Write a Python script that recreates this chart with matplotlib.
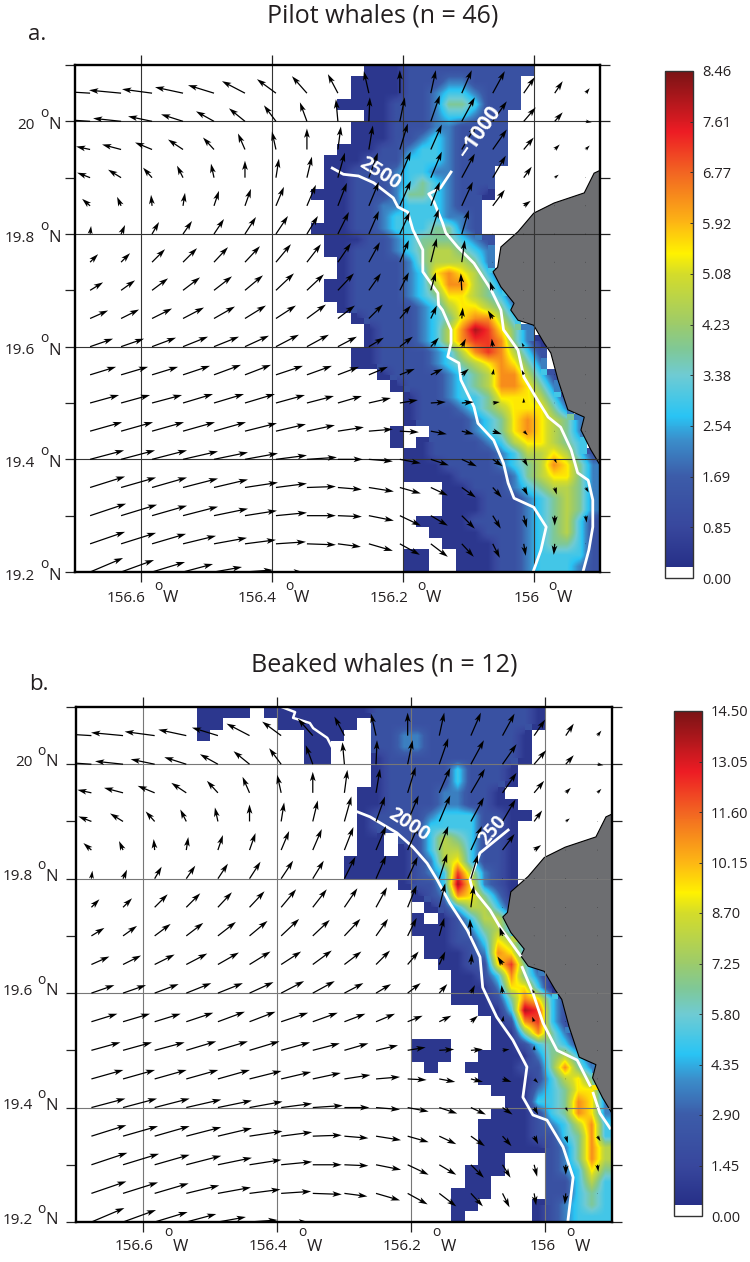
import numpy as np
from matplotlib import pyplot as plt
from matplotlib.colors import LinearSegmentedColormap, Normalize
from matplotlib.patches import Polygon

plt.rcParams['font.family'] = ['Open Sans', 'DejaVu Sans']

W, H = 750, 1262
INK = '#231f20'

# density grid: 0.02 deg cells, one string per row from 20.1N going south,
# digit = colorbar decile, '.' = no data, start = first column of the row
pilot_start = [22, 21, 21, 20, 22, 21, 21, 20, 19, 19, 19, 18, 19, 19, 18, 19, 19, 20, 20, 19, 19, 20, 21,
               22, 22, 21, 21, 23, 24, 25, 25, 25, 24, 24, 25, 25, 25, 28, 28, 28, 26, 27, 28, 25, 25]
pilot_rows = [
    "0001111111111", "0000111221111", "0000112332111", "00001112443111", "00111233211",
    "000111221111", "000112321111", "0001123321111", "00011133321111", "0011123322111",
    "0011123432111", "00011124432110", "001122333211", "001123333221", "0001123334421",
    "0001123444321", "0011123455432", "011112455542", "0111123676531", "00111123577542",
    "001111234665431", "01111123566542", "0111123467753", "0111235798642", "01112357887420",
    "001111235787531", "001111234567642", "01111234577531", "0111234577642", "0112334666531",
    "0111234566642", "01111234676542", "0..111234676542", "0.0111123566543", "001111123556531",
    "000111123457642", "000011112456642", "001112345542", "000111234542", "000111234542",
    "00001111234531", "0000111234531", "000011234431", "00..00011233331", "00..00011233321",
]
beaked_start = [9, 9, 9, 17, 17, 22, 22, 21, 21, 21, 21, 21, 21, 20, 20, 24, 25, 26, 25, 25, 26, 26, 27,
                28, 28, 28, 30, 31, 31, 25, 25, 26, 30, 31, 32, 31, 30, 30, 30, 30, 29, 29, 28, 28, 28]
beaked_rows = [
    "0000.000000001111111111110", "00....000000.1111111111110", "0.......000..112211111110",
    "00...112211111110", "00...011111111110", "01111131110", "01111131110", "00111122110",
    "001111221100", "0111123331100", "011113333110", "00.113543110", "00.013553110",
    "0000012563110", "0000012385210", "011396210", "01276420", "0135531", "0.013553",
    "00012453", "00113653", "00012763", "00116841", "00137420", "00026630", "000147631",
    "0039831", "017831", "0047420", "000...0013431", "000..000024531", "0..0000114742",
    "000013564", "000234662", "00334762", "000134762", "0000123573", "0000113473",
    "0000012475", "00...12475", "000...12364", "00....11353", "000....11343",
    "00....012343", "0.....012333",
]

# current vectors, one row per 0.05 deg from 20.05N to 19.2N
current_u = [
    [-33, -32, -30, -28, -26, -23, -19, -15, -10, -5, 0, 5, 10, 12, 11, 8, 4],
    [-30, -28, -24, -22, -18, -16, -12, -7, -2, 1, 5, 9, 13, 14, 12, 8, 6],
    [-14, -19, -17, -15, -11, -7, -4, 0, 3, 4, 8, 11, 14, 14, 10, 5, 4],
    [-13, -13, -9, -6, -3, 0, 3, 5, 7, 9, 11, 11, 13, 13, 8, 4, 0],
    [-8, -4, -1, 2, 5, 6, 8, 9, 9, 10, 11, 9, 11, 12, 7, 0, 0],
    [1, 4, 7, 9, 10, 11, 12, 11, 11, 10, 10, 8, 7, 0, 0, 0, 0],
    [8, 9, 13, 14, 14, 15, 15, 14, 13, 11, 9, 6, 3, 0, 0, 0, 0],
    [13, 14, 16, 17, 18, 18, 18, 17, 16, 12, 9, 5, -1, -3, 0, 0, 0],
    [18, 18, 20, 21, 21, 21, 20, 19, 17, 14, 11, 6, 1, -5, 0, 0, 0],
    [23, 23, 24, 25, 25, 24, 23, 22, 19, 15, 13, 8, 4, -1, -2, 0, 0],
    [26, 27, 26, 27, 27, 26, 27, 25, 21, 19, 15, 12, 7, 1, -2, 0, 0],
    [29, 29, 30, 30, 30, 30, 29, 27, 24, 22, 18, 15, 12, 7, 0, 0, 0],
    [32, 32, 32, 32, 32, 32, 30, 28, 26, 24, 19, 16, 12, 9, 4, 0, 0],
    [34, 34, 35, 35, 34, 33, 31, 30, 25, 24, 21, 18, 15, 10, 4, 2, 0],
    [35, 35, 35, 35, 34, 33, 31, 29, 24, 25, 21, 17, 14, 9, 4, 2, 3],
    [36, 36, 35, 35, 34, 32, 31, 29, 24, 25, 21, 17, 13, 8, 3, 0, 1],
    [35, 35, 34, 33, 33, 31, 30, 29, 23, 24, 20, 17, 12, 7, 2, -1, 0],
    [33, 33, 33, 30, 28, 28, 27, 25, 22, 23, 18, 14, 10, 6, 2, -1, 0],
]
current_v = [
    [2, 3, 4, 6, 8, 12, 14, 17, 19, 22, 23, 23, 23, 22, 16, 12, 5],
    [2, 3, 5, 7, 10, 13, 16, 19, 22, 24, 24, 26, 24, 20, 14, 9, -1],
    [3, 5, 7, 10, 12, 16, 18, 21, 23, 24, 26, 25, 24, 20, 12, 5, 4],
    [5, 8, 10, 12, 14, 17, 19, 21, 25, 25, 26, 26, 24, 22, 11, 3, 0],
    [7, 9, 11, 13, 15, 17, 19, 21, 23, 24, 25, 24, 24, 16, 5, 0, 0],
    [8, 9, 12, 13, 15, 17, 18, 18, 22, 23, 22, 25, 24, 0, 0, 0, 0],
    [8, 9, 13, 14, 15, 16, 18, 18, 19, 20, 22, 24, 22, 0, 0, 0, 0],
    [8, 10, 12, 13, 14, 15, 17, 16, 17, 17, 18, 18, 17, 9, 0, 0, 0],
    [8, 9, 10, 11, 12, 13, 13, 14, 13, 14, 13, 13, 11, 8, 0, 0, 0],
    [8, 8, 9, 10, 10, 11, 12, 12, 10, 9, 10, 9, 8, 8, 4, 0, 0],
    [8, 8, 8, 9, 10, 10, 9, 9, 8, 8, 6, 6, 6, 6, 5, 0, 0],
    [8, 8, 8, 9, 9, 9, 8, 7, 7, 5, 3, 1, 1, 1, 5, 0, 0],
    [9, 9, 9, 9, 9, 8, 7, 6, 4, 2, -1, -3, -3, -3, -4, 0, 0],
    [9, 9, 9, 8, 7, 6, 4, 2, 0, -2, -4, -6, -7, -7, -7, -4, 0],
    [11, 10, 10, 9, 8, 5, 4, 1, -2, -4, -6, -8, -10, -10, -8, -7, -5],
    [12, 11, 10, 9, 7, 5, 3, 0, -1, -5, -10, -10, -13, -13, -12, -10, -7],
    [12, 11, 10, 8, 6, 4, 2, -1, -3, -7, -11, -13, -13, -14, -12, -11, 0],
    [14, 12, 10, 8, 5, 2, 0, -3, -6, -9, -12, -14, -14, -14, -12, -10, 0],
]

# shoreline of the island, shared by both maps
coast_lon = [-155.898, -155.909, -155.924, -155.970, -156.001, -156.025, -156.051, -156.056, -156.063, -156.051,
             -156.031, -156.036, -156.025, -156.001, -155.985, -155.975, -155.964, -155.949, -155.924, -155.929,
             -155.914, -155.898]
coast_lat = [19.914, 19.908, 19.873, 19.855, 19.837, 19.804, 19.777, 19.741, 19.733, 19.706,
             19.677, 19.665, 19.647, 19.638, 19.606, 19.589, 19.541, 19.488, 19.475, 19.452,
             19.417, 19.386]

# depth contours, nan = gap in the line
iso2500_lon = [-156.308, -156.291, -156.268, -156.245, -156.215, -156.208, -156.193, -156.185, -156.170, -156.170,
               -156.147, -156.146, -156.140, -156.127, -156.127, -156.132, -156.115, -156.112, -156.092, -156.086,
               -156.062, -156.047, -156.040, -156.031, -156.001, -155.982, -155.990, -156.002]
iso2500_lat = [19.917, 19.906, 19.903, 19.891, 19.864, 19.848, 19.839, 19.807, 19.772, 19.733,
               19.695, 19.674, 19.665, 19.630, 19.606, 19.582, 19.571, 19.541, 19.493, 19.464,
               19.434, 19.393, 19.358, 19.331, 19.315, 19.280, 19.239, 19.200]
iso1000_lon = [-156.127, -156.143, -156.161, -156.153, -156.140, -156.135, -156.117, -156.092, -156.066, -156.051,
               -156.047, -156.025, -156.016, -155.995, -155.979, -155.960, -155.944, -155.934, -155.918, -155.911,
               -155.911, -155.917, -155.926]
iso1000_lat = [19.910, 19.882, 19.871, 19.857, 19.820, 19.802, 19.777, 19.748, 19.701, 19.665,
               19.630, 19.594, 19.546, 19.505, 19.475, 19.457, 19.417, 19.376, 19.363, 19.328,
               19.280, 19.239, 19.200]
iso2000_lon = [-156.287, -156.261, -156.221, -156.197, -156.176, -156.161, -156.142, -156.116, -156.097, -156.093,
               -156.072, -156.048, -156.027, -156.033, -156.018, -155.997, -155.973, -155.958, -155.966]
iso2000_lat = [19.920, 19.908, 19.880, 19.855, 19.827, 19.798, 19.757, 19.710, 19.663, 19.610,
               19.558, 19.518, 19.471, 19.418, 19.387, 19.378, 19.331, 19.278, 19.200]
iso250_lon = [-156.055, -156.097, -156.112, -156.109, -156.082, -156.067, -156.037, np.nan,
              -156.034, -156.018, -156.003, -155.982, -155.952, -155.933, np.nan,
              -155.928, -155.918, -155.903]
iso250_lat = [19.885, 19.845, 19.798, 19.784, 19.745, 19.715, 19.666, np.nan,
              19.645, 19.600, 19.548, 19.500, 19.483, 19.439, np.nan,
              19.425, 19.390, 19.364]
isotop_lon = [-156.393, -156.373, -156.376, -156.351, -156.346, -156.325, -156.318]
isotop_lat = [20.100, 20.091, 20.081, 20.072, 20.063, 20.046, 20.030]

pilot_max = 8.46
beaked_max = 14.50
pilot_ticks = ['0.00', '0.85', '1.69', '2.54', '3.38', '4.23', '5.08', '5.92', '6.77', '7.61', '8.46']
beaked_ticks = ['0.00', '1.45', '2.90', '4.35', '5.80', '7.25', '8.70', '10.15', '11.60', '13.05', '14.50']

lon_labels = ['156.6', '156.4', '156.2', '156']
lon_ticks = [-156.6, -156.4, -156.2, -156.0]
lat_labels = ['19.2', '19.4', '19.6', '19.8', '20']
lat_ticks = [19.2, 19.4, 19.6, 19.8, 20.0]

cmap = LinearSegmentedColormap.from_list('density', [
    (0.0, '#ffffff'), (0.02, '#ffffff'), (0.0201, '#262f87'), (0.1, '#38479d'), (0.2, '#3c5ca9'),
    (0.27, '#3b8dca'), (0.32, '#29c4f4'), (0.4, '#6fcbd3'), (0.45, '#7fc897'), (0.5, '#9ccb6b'),
    (0.6, '#d4dc2a'), (0.64, '#fff200'), (0.7, '#fdb714'), (0.8, '#f26522'), (0.88, '#ed1c24'),
    (1.0, '#7a1315')], N=512)


def px_axes(left, top, right, bottom):
    return plt.gcf().add_axes([left / W, 1 - bottom / H, (right - left) / W, (bottom - top) / H])


def decode(start, rows, vmax):
    grid = np.full((45, 40), np.nan)
    for j, (first, row) in enumerate(zip(start, rows)):
        for i, c in enumerate(row):
            if c != '.':
                grid[j, first + i] = (int(c) + 0.5) * vmax / 10
    return grid


def side_text(ax, txt, xy, off, size, ha='center'):
    ax.annotate(txt, xy=xy, xycoords=('axes fraction', 'data'), xytext=off, textcoords='offset pixels',
                ha=ha, va='center', fontsize=size, color=INK, annotation_clip=False)


def bottom_text(ax, txt, xy, off, size, ha='center'):
    ax.annotate(txt, xy=xy, xycoords=('data', 'axes fraction'), xytext=off, textcoords='offset pixels',
                ha=ha, va='center', fontsize=size, color=INK, annotation_clip=False)


def draw_map(ax, grid, vmax, grid_color, lab):
    # blocky layer keeps the cell edges of the survey area, smooth layer on top for the interior
    data = np.ma.masked_invalid(grid)
    extent = (-156.7, -155.9, 19.2, 20.1)
    mesh = ax.imshow(data, cmap=cmap, norm=Normalize(0, vmax), origin='upper', extent=extent,
                     aspect='auto', interpolation='nearest', zorder=1)
    ax.imshow(data, cmap=cmap, norm=Normalize(0, vmax), origin='upper', extent=extent, aspect='auto',
              interpolation='bilinear', interpolation_stage='data', zorder=1.1)
    land = list(zip(coast_lon, coast_lat)) + [(-155.85, 19.386), (-155.85, 19.914)]
    ax.add_patch(Polygon(land, closed=True, facecolor='#6d6e71', edgecolor='black', lw=0.8, zorder=2))

    ax.vlines(lon_ticks, 19.2, 20.1, color=grid_color, lw=0.8, zorder=2.5)
    ax.hlines(lat_ticks[1:], -156.7, -155.9, color=grid_color, lw=0.8, zorder=2.5)

    lons = -156.677 + 0.0472 * np.arange(17)
    lats = 20.05 - 0.05 * np.arange(18)
    X, Y = np.meshgrid(lons, lats)
    ax.quiver(X, Y, current_u, current_v, angles='uv', scale_units='dots', scale=1, units='dots', width=1.25,
              headwidth=4.6, headlength=7.5, headaxislength=6, minlength=0.5, color='black', pivot='tail', zorder=4)

    ax.set_xlim(-156.7, -155.9)
    ax.set_ylim(19.2, 20.1)
    ax.set_xticks(lon_ticks, [''] * 4)
    ax.set_yticks(np.arange(19.2, 20.15, 0.1), [''] * 10)
    ax.tick_params(axis='both', length=7, width=0.9, color='#222222', direction='out',
                   top=True, right=True, bottom=True, left=True)
    for side in ax.spines.values():
        side.set_linewidth(1.7)
        side.set_color('black')
        side.set_zorder(6)

    # tick labels with the raised degree sign
    for x, t in zip(lon_ticks, lon_labels):
        bottom_text(ax, t, (x, 0), (lab['lon'][0], lab['lon'][2]), 11, ha='right')
        bottom_text(ax, 'o', (x, 0), (lab['lon'][1], lab['lon'][3]), 10)
        bottom_text(ax, 'W', (x, 0), (lab['lon'][1] + 12, lab['lon'][2]), 12)
    for y, t in zip(lat_ticks, lat_labels):
        side_text(ax, t, (0, y), (lab['lat'][0], lab['lat'][2]), 11, ha='right')
        side_text(ax, 'o', (0, y), (lab['lat'][1], lab['lat'][3]), 10)
        side_text(ax, 'N', (0, y), (lab['lat'][1] + 11, lab['lat'][2]), 12)
    return mesh


def draw_colorbar(mesh, box, ticks, vmax):
    cax = px_axes(*box)
    bar = plt.gcf().colorbar(mesh, cax=cax)
    bar.set_ticks(np.linspace(0, vmax, 11), labels=ticks)
    bar.ax.tick_params(length=2, width=0.7, direction='in', pad=6.5, labelsize=10.5, labelcolor=INK, color='#333333')
    bar.outline.set_linewidth(1.0)
    bar.outline.set_edgecolor('#333333')


fig = plt.figure(figsize=(W / 100, H / 100), dpi=100, facecolor='white')

# panel a
ax_a = px_axes(75, 65, 600, 572)
pilot_grid = decode(pilot_start, pilot_rows, pilot_max)
mesh_a = draw_map(ax_a, pilot_grid, pilot_max, '#333333',
                  {'lon': (5, 18, -26, -15), 'lat': (-40, -31, -4, 8)})
ax_a.plot(iso2500_lon, iso2500_lat, color='white', lw=2.0, zorder=3)
ax_a.plot(iso1000_lon, iso1000_lat, color='white', lw=2.0, zorder=3)
ax_a.text(-156.236, 19.908, '2500', color='white', fontweight='bold', fontsize=14, rotation=-32,
          ha='center', va='center', rotation_mode='anchor', zorder=5, family='Open Sans')
ax_a.text(-156.083, 19.981, '\u22121000', color='white', fontweight='bold', fontsize=15, rotation=55,
          ha='center', va='center', rotation_mode='anchor', zorder=5, family='Open Sans')
draw_colorbar(mesh_a, (665, 71, 693, 578), pilot_ticks, pilot_max)
fig.text(383 / W, 1 - 16 / H, 'Pilot whales (n = 46)', ha='center', va='center', fontsize=18, color=INK)
fig.text(28 / W, 1 - 35 / H, 'a.', ha='left', va='center', fontsize=16, color=INK)

# panel b
ax_b = px_axes(76, 707, 612, 1222)
beaked_grid = decode(beaked_start, beaked_rows, beaked_max)
mesh_b = draw_map(ax_b, beaked_grid, beaked_max, '#777777',
                  {'lon': (11, 25, -25, -11), 'lat': (-43, -35, 2, 13)})
ax_b.plot(iso2000_lon, iso2000_lat, color='white', lw=2.0, zorder=3)
ax_b.plot(iso250_lon, iso250_lat, color='white', lw=2.0, zorder=3)
ax_b.plot(isotop_lon, isotop_lat, color='white', lw=1.8, zorder=3)
ax_b.text(-156.203, 19.894, '2000', color='white', fontweight='bold', fontsize=14, rotation=-33,
          ha='center', va='center', rotation_mode='anchor', zorder=5, family='Open Sans')
ax_b.text(-156.078, 19.885, '250', color='white', fontweight='bold', fontsize=13.5, rotation=50,
          ha='center', va='center', rotation_mode='anchor', zorder=5, family='Open Sans')
draw_colorbar(mesh_b, (674, 711, 702, 1216), beaked_ticks, beaked_max)
fig.text(384 / W, 1 - 665 / H, 'Beaked whales (n = 12)', ha='center', va='center', fontsize=18, color=INK)
fig.text(29 / W, 1 - 685 / H, 'b.', ha='left', va='center', fontsize=16, color=INK)

fig.savefig('out.png', dpi=100)
